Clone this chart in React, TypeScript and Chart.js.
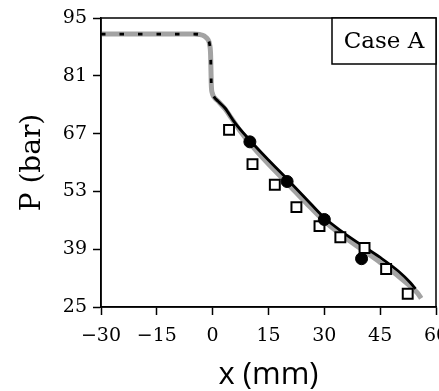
import { useEffect, useRef } from "react";
import { Chart, registerables } from "chart.js";

Chart.register(...registerables);

// ---- data ----
const xTicks = [-30, -15, 0, 15, 30, 45, 60];
const yTicks = [25, 39, 53, 67, 81, 95];

// grey simulation line
const grayX = [-30, -5, -3.5, -2.2, -1.3, -0.8, -0.55, -0.45, -0.35, -0.1, 0.4, 1.5, 3.3, 5, 7.5, 10, 15, 20, 25, 30, 35, 40, 45, 50, 53, 55, 56];
const grayP = [91.1, 91.1, 91.0, 90.6, 89.8, 88.5, 86, 82, 78.5, 76.8, 75.8, 74.8, 73.0, 70.8, 67.5, 64.6, 59.6, 55.0, 50.3, 45.8, 42.2, 39.0, 35.8, 32.4, 30.1, 28.4, 27.1];

// black simulation line (dashed upstream of x = 0, solid afterwards)
const blackX = [-30, -5, -3.5, -2.2, -1.3, -0.8, -0.55, -0.45, -0.35, -0.1, 0.3, 1.5, 3.3, 6, 10, 15, 20, 25, 30, 35, 40, 45, 50, 53, 54.5];
const blackP = [91.1, 91.1, 91.0, 90.6, 89.8, 88.5, 86, 82, 78.5, 76.8, 76.0, 74.8, 73.2, 69.6, 65.4, 60.6, 56.0, 51.3, 46.6, 43.1, 40.0, 37.0, 33.6, 31.0, 29.4];

// open squares
const squareX = [4.4, 10.7, 16.7, 22.5, 28.7, 34.3, 40.8, 46.6, 52.4];
const squareP = [67.9, 59.6, 54.6, 49.2, 44.6, 41.9, 39.3, 34.2, 28.2];

// filled circles
const circleX = [10, 20, 30, 40];
const circleP = [65.0, 55.4, 46.2, 36.7];

const caseLabel = "Case A";
const xTitle = "x (mm)";
const yTitle = "P (bar)";

const SERIF = "'DejaVu Serif', serif";

const zip = (xs: number[], ys: number[]) => xs.map((x, i) => ({ x, y: ys[i] }));

const framePlugin = {
  id: "frameAndCase",
  afterDatasetsDraw(chart: any) {
    const { ctx, chartArea: a } = chart;
    ctx.save();
    ctx.strokeStyle = "#000";
    ctx.lineWidth = 1.5;
    ctx.strokeRect(a.left, a.top, a.right - a.left, a.bottom - a.top);
    // case label box
    const bw = 104;
    const bh = 46;
    const bx = a.right - bw;
    const by = a.top;
    ctx.fillStyle = "#fff";
    ctx.fillRect(bx, by, bw, bh);
    ctx.strokeRect(bx, by, bw, bh);
    ctx.fillStyle = "#000";
    ctx.font = `23px ${SERIF}`;
    ctx.textAlign = "center";
    ctx.textBaseline = "middle";
    ctx.fillText(caseLabel, bx + bw / 2, by + bh / 2 + 1);
    ctx.restore();
  },
};

export default function App() {
  const ref = useRef<HTMLCanvasElement>(null);

  useEffect(() => {
    if (!ref.current) return;
    const chart = new Chart(ref.current, {
      type: "scatter",
      data: {
        datasets: [
          {
            type: "scatter",
            data: zip(circleX, circleP),
            pointStyle: "circle",
            pointRadius: 6,
            pointBackgroundColor: "#000",
            pointBorderColor: "#000",
            pointBorderWidth: 1,
            order: 0,
          },
          {
            type: "scatter",
            data: zip(squareX, squareP),
            pointStyle: "rect",
            pointRadius: 7,
            pointBackgroundColor: "#fff",
            pointBorderColor: "#000",
            pointBorderWidth: 2,
            order: 1,
          },
          {
            type: "line",
            data: zip(blackX, blackP),
            borderColor: "#000",
            borderWidth: 2.8,
            pointRadius: 0,
            showLine: true,
            cubicInterpolationMode: "monotone",
            segment: {
              borderDash: (c: any) => (c.p0.parsed.x < 0.2 ? [4.5, 14] : undefined),
            },
            order: 2,
          },
          {
            type: "line",
            data: zip(grayX, grayP),
            borderColor: "#a3a3a3",
            borderWidth: 5,
            pointRadius: 0,
            showLine: true,
            cubicInterpolationMode: "monotone",
            order: 3,
          },
        ],
      },
      options: {
        animation: false,
        responsive: false,
        devicePixelRatio: 1,
        layout: { autoPadding: false, padding: { top: 18, right: 3, left: 0, bottom: 0 } },
        plugins: { legend: { display: false }, tooltip: { enabled: false } },
        scales: {
          x: {
            type: "linear",
            min: xTicks[0],
            max: xTicks[xTicks.length - 1],
            afterBuildTicks: (s: any) => {
              s.ticks = xTicks.map((v) => ({ value: v }));
            },
            afterFit: (s: any) => {
              s.height = 84;
              s.paddingLeft = 0;
              s.paddingRight = 0;
            },
            ticks: {
              color: "#000",
              font: { family: SERIF, size: 19 },
              padding: 10,
              maxRotation: 0,
              autoSkip: false,
              callback: (v: any) => String(v).replace("-", "\u2212"),
            },
            grid: {
              display: true,
              drawOnChartArea: false,
              drawTicks: true,
              tickLength: 8,
              tickColor: "#000",
              tickWidth: 1.5,
            },
            border: { display: true, color: "#000", width: 1.5 },
            title: {
              display: true,
              text: xTitle,
              color: "#000",
              font: { family: "'Open Sans', sans-serif", size: 31, lineHeight: 1 },
              padding: { top: 0, bottom: 0 },
            },
          },
          y: {
            type: "linear",
            min: yTicks[0],
            max: yTicks[yTicks.length - 1],
            afterBuildTicks: (s: any) => {
              s.ticks = yTicks.map((v) => ({ value: v }));
            },
            afterFit: (s: any) => {
              s.width = 101;
              s.paddingTop = 0;
              s.paddingBottom = 0;
            },
            ticks: {
              color: "#000",
              font: { family: SERIF, size: 19 },
              padding: 6,
              autoSkip: false,
            },
            grid: {
              display: true,
              drawOnChartArea: false,
              drawTicks: true,
              tickLength: 8,
              tickColor: "#000",
              tickWidth: 1.5,
            },
            border: { display: true, color: "#000", width: 1.5 },
            title: {
              display: true,
              text: yTitle,
              color: "#000",
              font: { family: SERIF, size: 28, lineHeight: 1 },
              padding: { top: 19, bottom: 0 },
            },
          },
        },
      },
      plugins: [framePlugin],
    } as any);
    return () => chart.destroy();
  }, []);

  return (
    <div style={{ position: "fixed", left: 0, top: 0, width: 439, height: 391, background: "#fff" }}>
      <canvas ref={ref} width={439} height={391} style={{ display: "block" }} />
    </div>
  );
}
